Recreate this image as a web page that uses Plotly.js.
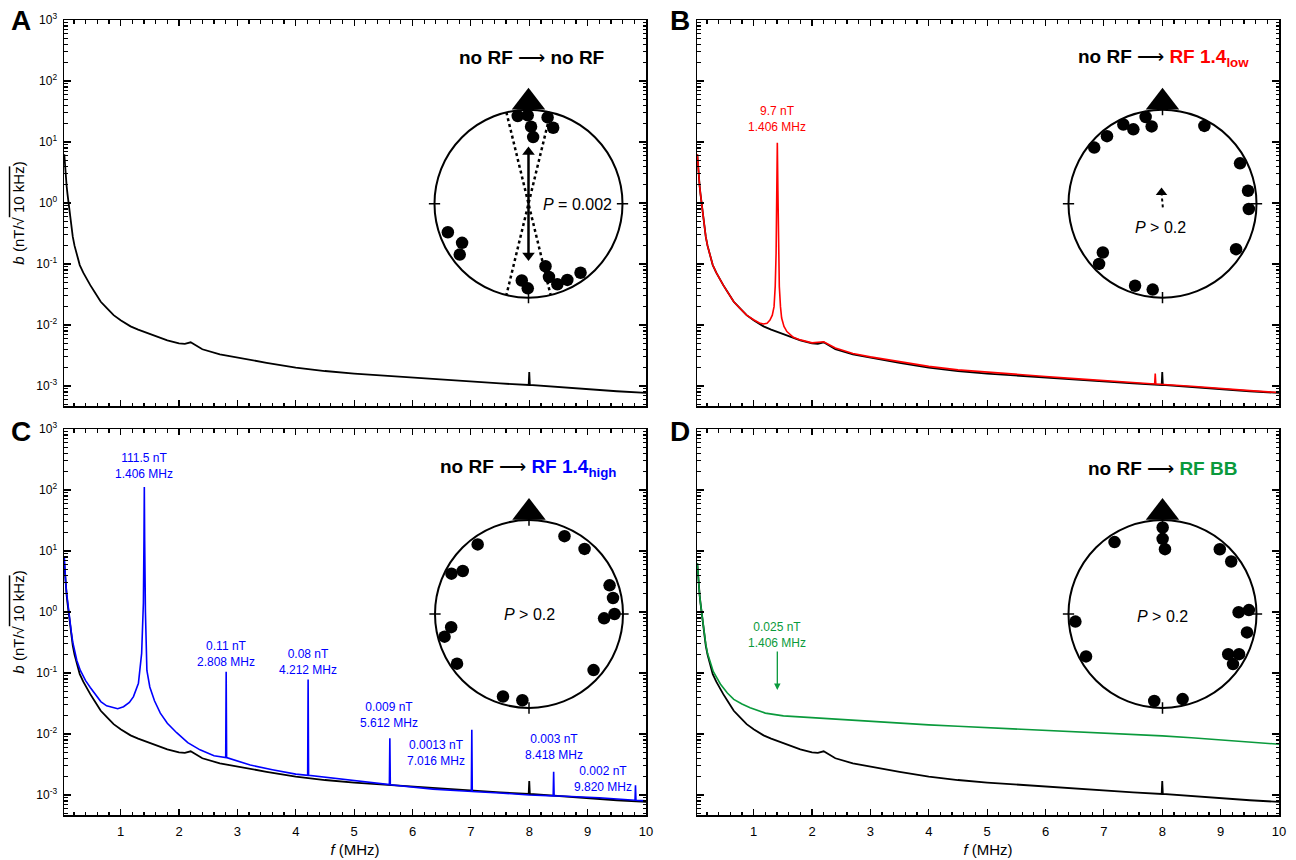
<!DOCTYPE html>
<html><head><meta charset="utf-8">
<script src="https://cdn.plot.ly/plotly-3.0.1.min.js"></script>
<style>html,body{margin:0;padding:0;background:#fff}</style>
</head><body><div id="chart" style="width:1296px;height:860px"></div>
<script>
// ---------- DATA ----------
// no RF baseline (black), f in MHz, b in nT/sqrt(10 kHz)
const fBlack = [0.035,0.045,0.06,0.075,0.09,0.11,0.13,0.155,0.18,0.21,0.25,0.3,0.36,0.42,0.48,0.56,0.66,0.76,0.88,1.0,1.17,1.3,1.45,1.6,1.8,2.0,2.1,2.2,2.3,2.4,2.7,3.0,3.5,4.0,4.5,5.0,5.5,6.0,6.5,7.0,7.5,7.99,8.0,8.01,8.5,9.0,9.5,10];
const bBlack = [6.3,4.2,2.7,1.9,1.4,0.95,0.65,0.42,0.28,0.2,0.14,0.096,0.072,0.056,0.045,0.034,0.024,0.019,0.0145,0.012,0.0095,0.0084,0.0074,0.0066,0.0056,0.005,0.0049,0.0052,0.0046,0.004,0.0033,0.0029,0.0024,0.002,0.00176,0.0016,0.00148,0.00137,0.00127,0.00118,0.0011,0.00104,0.0017,0.00104,0.00096,0.00088,0.00082,0.00077];

// RF 1.4 low (red)
const fRed = [0.035,0.045,0.06,0.075,0.09,0.11,0.13,0.155,0.18,0.21,0.25,0.3,0.36,0.42,0.48,0.56,0.66,0.76,0.88,1.0,1.1,1.17,1.23,1.28,1.32,1.35,1.37,1.385,1.396,1.406,1.416,1.427,1.44,1.46,1.48,1.52,1.57,1.68,1.8,2.0,2.2,2.4,2.7,3.0,3.5,4.0,4.5,5.0,5.5,6.0,6.5,7.0,7.5,7.87,7.88,7.89,8.5,9.0,9.5,10];
const bRed = [6.3,4.2,2.7,1.9,1.4,0.95,0.65,0.42,0.28,0.2,0.14,0.096,0.072,0.056,0.045,0.034,0.024,0.019,0.0145,0.0122,0.0108,0.0104,0.0107,0.012,0.0145,0.02,0.043,0.15,1.6,9.7,1.6,0.15,0.043,0.02,0.013,0.0095,0.0078,0.0063,0.0057,0.0051,0.0053,0.0042,0.0034,0.003,0.0025,0.0021,0.00184,0.00168,0.00154,0.00143,0.00132,0.00122,0.00113,0.00108,0.0016,0.00108,0.00099,0.0009,0.00084,0.00078];

// RF 1.4 high (blue)
const fBlue = [0.035,0.045,0.06,0.075,0.09,0.11,0.13,0.155,0.18,0.21,0.25,0.31,0.4,0.48,0.56,0.66,0.76,0.88,0.95,1.05,1.15,1.22,1.305,1.36,1.39,1.4,1.406,1.412,1.425,1.45,1.5,1.58,1.68,1.8,1.96,2.15,2.36,2.6,2.8,2.808,2.816,3.0,3.22,3.6,4.0,4.204,4.212,4.22,4.6,5.21,5.604,5.612,5.62,6.35,7.008,7.016,7.024,7.49,8.0,8.41,8.418,8.426,8.63,9.2,9.812,9.82,9.828,10];
const bBlue = [8,4.8,3.0,2.05,1.5,1.05,0.72,0.47,0.32,0.23,0.16,0.11,0.075,0.058,0.045,0.034,0.029,0.027,0.026,0.028,0.033,0.041,0.068,0.21,1.4,15,111.5,15,1.0,0.11,0.059,0.035,0.022,0.015,0.0105,0.0072,0.0055,0.0044,0.0041,0.105,0.0041,0.0036,0.0031,0.0026,0.0022,0.0021,0.078,0.0021,0.0019,0.0016,0.00148,0.0085,0.00147,0.00125,0.00114,0.0117,0.00114,0.00108,0.001,0.00097,0.0024,0.00097,0.00095,0.0009,0.00082,0.00145,0.00082,0.0008];

// RF BB (green)
const fGreen = [0.035,0.045,0.06,0.075,0.09,0.11,0.13,0.155,0.18,0.21,0.25,0.31,0.43,0.55,0.66,0.8,0.94,1.2,1.51,2.08,2.5,3.0,3.5,4.0,4.5,5.0,5.5,6.0,6.5,7.0,7.5,8.0,8.5,9.0,9.5,10];
const bGreen = [6.3,4.2,2.7,1.9,1.4,0.97,0.67,0.44,0.3,0.21,0.155,0.105,0.066,0.047,0.037,0.031,0.027,0.022,0.0198,0.0183,0.0172,0.016,0.015,0.0141,0.0134,0.0127,0.0121,0.0116,0.0111,0.0105,0.0099,0.0093,0.0087,0.008,0.0074,0.0068];

// circular plots: direction (deg, clockwise from top) and plotted radius
const dirA = [353,359.5,12.5,1.9,18,4,250.5,239.5,233.5,164.8,164.4,160.3,153,143,185,180.5];
const radA = [0.94,0.94,0.94,0.82,0.85,0.71,0.91,0.82,0.91,0.69,0.81,0.91,0.91,0.92,0.82,0.9];
const dirB = [349,352,338.6,333.7,320.6,309.4,28.3,62.5,81.4,93.5,121.7,230.7,226.5,198.5,186.5];
const radB = [0.94,0.83,0.85,0.94,0.93,0.94,0.94,0.93,0.92,0.92,0.92,0.82,0.93,0.92,0.92];
const dirC = [24.5,40.5,323.6,297.5,303,70.4,79.2,90,93.3,260.4,255,235.4,131,197.5,184.4];
const radC = [0.91,0.91,0.92,0.93,0.84,0.91,0.91,0.91,0.8,0.84,0.93,0.93,0.91,0.92,0.92];
const dirD = [0.1,0.1,2.2,326.3,41.5,52.6,87.4,88.7,102.3,121.5,117.7,125.4,265,241,185.4,166.7];
const radD = [0.92,0.8,0.69,0.92,0.92,0.92,0.92,0.81,0.92,0.82,0.92,0.92,0.93,0.93,0.93,0.93];
// mean direction (A, axial) and 95% cone half-angle
const meanDirA = 0;  const meanLenA = 0.57; const coneA = 13.6;
const meanDirB = 355; const meanLenB = 0.12;

// tick labels
const yTickVals = [0.001,0.01,0.1,1,10,100,1000];
const yTickText = ['10<sup>-3</sup>','10<sup>-2</sup>','10<sup>-1</sup>','10<sup>0</sup>','10<sup>1</sup>','10<sup>2</sup>','10<sup>3</sup>'];

// peak labels
const peakLabC = [
  {t:'111.5 nT<br>1.406 MHz', lx:1.406, py:466},
  {t:'0.11 nT<br>2.808 MHz', lx:2.806, py:653.7},
  {t:'0.08 nT<br>4.212 MHz', lx:4.21, py:661.5},
  {t:'0.009 nT<br>5.612 MHz', lx:5.6, py:714.7},
  {t:'0.0013 nT<br>7.016 MHz', lx:6.41, py:753},
  {t:'0.003 nT<br>8.418 MHz', lx:8.42, py:746.5},
  {t:'0.002 nT<br>9.820 MHz', lx:9.27, py:778.7}
];

// ---------- LAYOUT HELPERS ----------
const W = 1296, H = 860;
const fx = p => p / W;
const fy = p => 1 - p / H;
const FONT = 'Liberation Sans, Arial, Helvetica, sans-serif';
const RED = '#ff0000', BLUE = '#0000ff', GREEN = '#0a9a3c';
const RC = 94;          // circle radius in px
const RMAX = 1.3;       // polar radial range (circle drawn at r = 1)

const yMinor = [];
for (let e = -4; e < 3; e++) for (let k = 2; k <= 9; k++) { const v = k * Math.pow(10, e); if (v > 0.00046) yMinor.push(v); }

function xAxis(l, r, anchor, labels) {
  return {
    domain: [fx(l), fx(r)], anchor: anchor, range: [0.03, 10], type: 'linear',
    showline: true, linecolor: '#000', linewidth: 1.5, mirror: 'ticks',
    ticks: 'inside', ticklen: 6, tickwidth: 1.2, tickcolor: '#000', tick0: 0, dtick: 1,
    minor: {ticks: 'inside', ticklen: 3.5, tickwidth: 1.2, tickcolor: '#000', dtick: 0.2, tick0: 0},
    showgrid: false, zeroline: false, showticklabels: labels,
    tickfont: {family: FONT, size: 13, color: '#000'}, ticklabelstandoff: 4,
    title: labels ? {text: '<i>f</i> (MHz)', font: {family: FONT, size: 15, color: '#000'}, standoff: 6} : {text: ''}
  };
}
function yAxis(top, bottom, anchor, labels) {
  return {
    domain: [fy(bottom), fy(top)], anchor: anchor, type: 'log', range: [-3.328, 3],
    showline: true, linecolor: '#000', linewidth: 1.5, mirror: 'ticks',
    ticks: 'inside', ticklen: 7, tickwidth: 1.2, tickcolor: '#000',
    tickmode: 'array', tickvals: yTickVals, ticktext: yTickText,
    minor: {ticks: 'inside', ticklen: 3.5, tickwidth: 1.2, tickcolor: '#000', tickmode: 'array', tickvals: yMinor},
    showgrid: false, zeroline: false, showticklabels: labels,
    tickfont: {family: FONT, size: 12, color: '#000'}, ticklabelstandoff: 3,
    title: labels ? {text: '<i>b</i> (nT/√<span style="text-decoration:overline"> 10 kHz</span>)', font: {family: FONT, size: 15, color: '#000'}, standoff: 8} : {text: ''}
  };
}
function polarDomain(cx, cy) {
  const R = RC * RMAX;
  return {
    domain: {x: [fx(cx - R), fx(cx + R)], y: [fy(cy + R), fy(cy - R)]},
    bgcolor: 'rgba(0,0,0,0)',
    radialaxis: {visible: false, range: [0, RMAX]},
    angularaxis: {rotation: 90, direction: 'clockwise', showline: false, showgrid: false, ticks: '', showticklabels: false}
  };
}
function circleShape(cx, cy) {
  return {type: 'circle', xref: 'paper', yref: 'paper', x0: fx(cx - RC), x1: fx(cx + RC), y0: fy(cy + RC), y1: fy(cy - RC),
          line: {color: '#000', width: 2}, fillcolor: 'rgba(0,0,0,0)', layer: 'above'};
}
const centers = [[528.5, 203.7], [1162.5, 203.7], [529, 614], [1162.5, 614]];

// ---------- TRACES ----------
const traces = [];
const panels = [
  {x: 'x', y: 'y', f: null, b: null},
  {x: 'x2', y: 'y2', f: fRed, b: bRed, c: RED},
  {x: 'x3', y: 'y3', f: fBlue, b: bBlue, c: BLUE},
  {x: 'x4', y: 'y4', f: fGreen, b: bGreen, c: GREEN}
];
panels.forEach(p => {
  traces.push({type: 'scatter', mode: 'lines', x: fBlack, y: bBlack, xaxis: p.x, yaxis: p.y,
               line: {color: '#000', width: 1.8}, hoverinfo: 'skip'});
  if (p.b) traces.push({type: 'scatter', mode: 'lines', x: p.f, y: p.b, xaxis: p.x, yaxis: p.y,
               line: {color: p.c, width: 1.6}, hoverinfo: 'skip'});
});

function circleTraces(sub, dirs, rads) {
  const t = [];
  t.push({type: 'scatterpolar', subplot: sub, mode: 'lines',
          r: [0.94, 1.06, null, 0.94, 1.06, null, 0.94, 1.06, null, 0.94, 1.06],
          theta: [0, 0, null, 90, 90, null, 180, 180, null, 270, 270],
          line: {color: '#000', width: 1.5}, hoverinfo: 'skip'});
  t.push({type: 'scatterpolar', subplot: sub, mode: 'markers',
          r: [1.08], theta: [0], marker: {symbol: 'triangle-up', size: 29, color: '#000'}, hoverinfo: 'skip'});
  t.push({type: 'scatterpolar', subplot: sub, mode: 'markers',
          r: rads, theta: dirs, marker: {symbol: 'circle', size: 12.5, color: '#000'}, hoverinfo: 'skip'});
  return t;
}
traces.push(...circleTraces('polar', dirA, radA));
traces.push(...circleTraces('polar2', dirB, radB));
traces.push(...circleTraces('polar3', dirC, radC));
traces.push(...circleTraces('polar4', dirD, radD));

// A: confidence cone (dotted) and axial mean arrow
traces.push({type: 'scatterpolar', subplot: 'polar', mode: 'lines',
  r: [1, 1, null, 1, 1], theta: [meanDirA - coneA, meanDirA + 180 - coneA, null, meanDirA + coneA, meanDirA + 180 + coneA],
  line: {color: '#000', width: 2.5, dash: 'dot'}, hoverinfo: 'skip'});
traces.push({type: 'scatterpolar', subplot: 'polar', mode: 'lines',
  r: [meanLenA - 0.03, meanLenA - 0.03], theta: [meanDirA, meanDirA + 180],
  line: {color: '#000', width: 2.5}, hoverinfo: 'skip'});
traces.push({type: 'scatterpolar', subplot: 'polar', mode: 'markers',
  r: [meanLenA - 0.02, meanLenA - 0.02], theta: [meanDirA, meanDirA + 180],
  marker: {symbol: ['triangle-up', 'triangle-down'], size: 11, color: '#000'}, hoverinfo: 'skip'});
// B: short mean arrow
traces.push({type: 'scatterpolar', subplot: 'polar2', mode: 'lines',
  r: [0.04, meanLenB], theta: [meanDirB + 180, meanDirB], line: {color: '#000', width: 2, dash: 'dot'}, hoverinfo: 'skip'});
traces.push({type: 'scatterpolar', subplot: 'polar2', mode: 'markers',
  r: [meanLenB], theta: [meanDirB], marker: {symbol: 'triangle-up', size: 10, color: '#000'}, hoverinfo: 'skip'});

// ---------- ANNOTATIONS ----------
const ann = [];
const paperText = (x, y, text, size, opts = {}) => ann.push(Object.assign({
  xref: 'paper', yref: 'paper', x: fx(x), y: fy(y), text: text, showarrow: false,
  xanchor: 'center', yanchor: 'middle', font: {family: FONT, size: size, color: '#000'}
}, opts));
paperText(21, 21, '<b>A</b>', 28);
paperText(680, 21, '<b>B</b>', 28);
paperText(21, 431, '<b>C</b>', 28);
paperText(680, 431, '<b>D</b>', 28);
const arrowTxt = ' ⟶ ';
paperText(531, 58, '<b>no RF</b>' + arrowTxt + '<b>no RF</b>', 19);
paperText(1163, 58, '<b>no RF</b>' + arrowTxt + '<b><span style="color:' + RED + '">RF 1.4<sub>low</sub></span></b>', 19);
paperText(528, 468, '<b>no RF</b>' + arrowTxt + '<b><span style="color:' + BLUE + '">RF 1.4<sub>high</sub></span></b>', 19);
paperText(1162, 468, '<b>no RF</b>' + arrowTxt + '<b><span style="color:' + GREEN + '">RF BB</span></b>', 19);
paperText(541, 204, '<i>P</i> = 0.002', 16, {xanchor: 'left'});
paperText(1160, 228, '<i>P</i> > 0.2', 16);
paperText(529, 614, '<i>P</i> > 0.2', 16);
paperText(1162, 616, '<i>P</i> > 0.2', 16);
ann.push({xref: 'x2', yref: 'paper', x: 1.406, y: fy(119), text: '9.7 nT<br>1.406 MHz', showarrow: false,
          xanchor: 'center', yanchor: 'middle', font: {family: FONT, size: 12, color: RED}});
peakLabC.forEach(p => ann.push({xref: 'x3', yref: 'paper', x: p.lx, y: fy(p.py), text: p.t, showarrow: false,
          xanchor: 'center', yanchor: 'middle', font: {family: FONT, size: 12, color: BLUE}}));
ann.push({xref: 'x4', yref: 'paper', x: 1.406, y: fy(690), text: '0.025 nT<br>1.406 MHz', showarrow: true,
          ax: 0, ay: -55, arrowhead: 2, arrowsize: 1, arrowwidth: 1.3, arrowcolor: GREEN,
          font: {family: FONT, size: 12, color: GREEN}});

const layout = {
  width: W, height: H, margin: {l: 0, r: 0, t: 0, b: 0},
  paper_bgcolor: '#fff', plot_bgcolor: 'rgba(0,0,0,0)', showlegend: false,
  font: {family: FONT, color: '#000'},
  xaxis: xAxis(64, 646, 'y', false), yaxis: yAxis(20, 406, 'x', true),
  xaxis2: xAxis(697, 1279, 'y2', false), yaxis2: yAxis(20, 406, 'x2', false),
  xaxis3: xAxis(64, 646, 'y3', true), yaxis3: yAxis(429, 815, 'x3', true),
  xaxis4: xAxis(697, 1279, 'y4', true), yaxis4: yAxis(429, 815, 'x4', false),
  polar: polarDomain(...centers[0]),
  polar2: polarDomain(...centers[1]),
  polar3: polarDomain(...centers[2]),
  polar4: polarDomain(...centers[3]),
  shapes: centers.map(c => circleShape(c[0], c[1])),
  annotations: ann
};
Plotly.newPlot('chart', traces, layout, {displayModeBar: false, staticPlot: true});
</script>
</body></html>
